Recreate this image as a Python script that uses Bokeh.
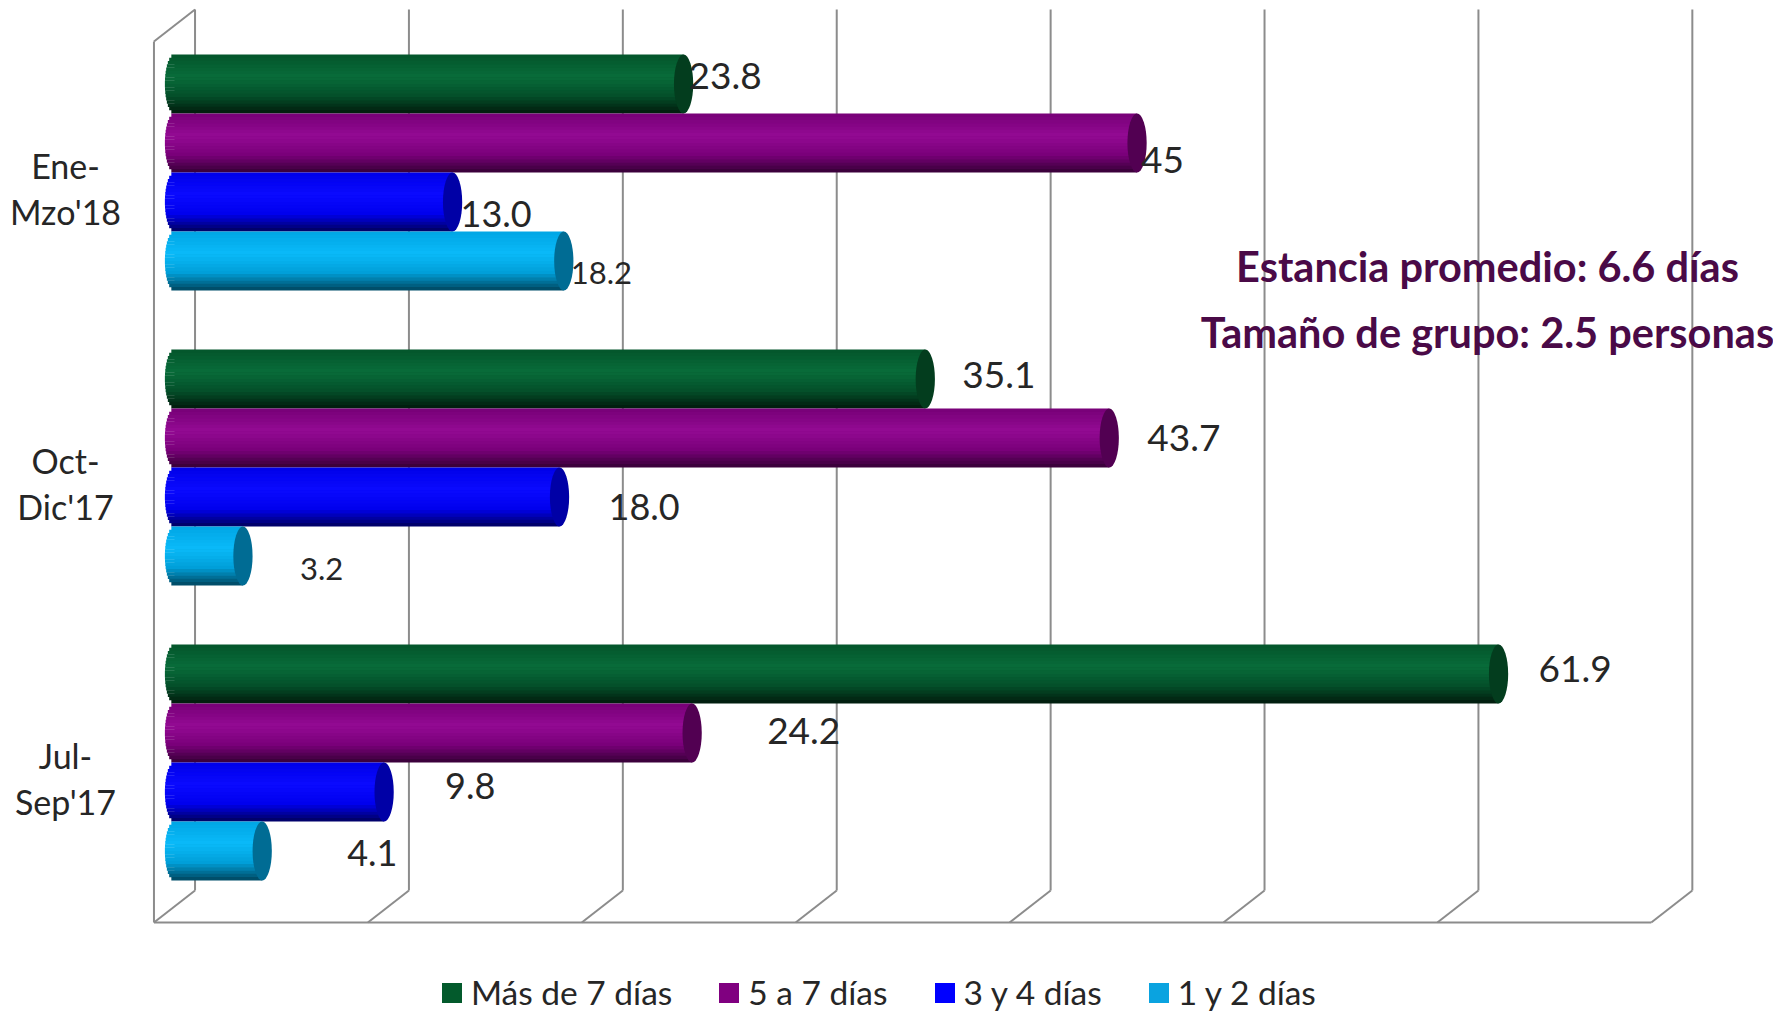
from bokeh.plotting import figure
from bokeh.models import Range1d, Legend, LegendItem
from bokeh.core.properties import value
from bokeh.embed import file_html
from bokeh.resources import INLINE

# ---------------- data ----------------
categories = ["Ene-Mzo'18", "Oct-Dic'17", "Jul-Sep'17"]
series_names = ["Más de 7 días", "5 a 7 días", "3 y 4 días", "1 y 2 días"]
mas_de_7 = [23.8, 35.1, 61.9]
de_5_a_7 = [45.0, 43.7, 24.2]
de_3_y_4 = [13.0, 18.0, 9.8]
de_1_y_2 = [18.2, 3.2, 4.1]
mas_de_7_labels = ["23.8", "35.1", "61.9"]
de_5_a_7_labels = ["45", "43.7", "24.2"]
de_3_y_4_labels = ["13.0", "18.0", "9.8"]
de_1_y_2_labels = ["18.2", "3.2", "4.1"]
x_ticks = [0, 10, 20, 30, 40, 50, 60, 70]
notes = ["Estancia promedio: 6.6 días", "Tamaño de grupo: 2.5 personas"]

# ---------------- layout / style ----------------
W, H = 1773, 1019
PX_UNIT = 21.39      # pixels per value unit
X0 = 174             # pixel of value 0
SLOT = 59.0          # pixel height of one bar slot

def xd(px):
    return (px - X0) / PX_UNIT

def yd(px):
    return px / SLOT

Y0 = yd(83.5)
GROUP = 5
DX = 0.96
DY = yd(16)
Y_TOP = yd(9)
Y_FLOOR = yd(890)
CAP_W = 0.9
N_SLICES = 18
FONT = "Lato"
TXT = "#262626"
GRID = "#8c8c8c"

def hex2rgb(h):
    return tuple(int(h[i:i + 2], 16) for i in (1, 3, 5))

def mix(c1, c2, t):
    a, b = hex2rgb(c1), hex2rgb(c2)
    return "#%02x%02x%02x" % tuple(round(a[i] + (b[i] - a[i]) * t) for i in range(3))

def shade(stops, t):
    for (p0, c0), (p1, c1) in zip(stops, stops[1:]):
        if t <= p1:
            return mix(c0, c1, (t - p0) / (p1 - p0))
    return stops[-1][1]

# gradient stops top->bottom, end-cap colour, legend colour
styles = [
    ([(0, "#04552b"), (0.38, "#086c3a"), (0.7, "#04502a"), (1, "#011a0c")], "#033d1e", "#035a2c"),
    ([(0, "#770077"), (0.38, "#930a93"), (0.7, "#7a007a"), (1, "#360036")], "#520052", "#800080"),
    ([(0, "#0000e8"), (0.38, "#0a0aff"), (0.7, "#0000ee"), (1, "#00005e")], "#0000a6", "#0000ff"),
    ([(0, "#00a6e4"), (0.38, "#0abaf9"), (0.7, "#009fd8"), (1, "#00465f")], "#006c94", "#0aa3e0"),
]
label_dx = [[5, 37, 40], [4, 38, 75], [8, 49, 61], [7, 57, 85]]
label_dy = [[-8, -4, -5], [17, 0, -2], [12, 10, -6], [12, 13, 2]]
label_size = [["37px"] * 3, ["37px"] * 3, ["36px"] * 3, ["31px", "31px", "36px"]]

p = figure(width=W, height=H, output_backend="svg", toolbar_location=None,
           x_range=Range1d(xd(0), xd(W)), y_range=Range1d(yd(H), 0),
           x_axis_location=None, y_axis_location=None, min_border=0,
           outline_line_color=None, background_fill_color="white")
p.grid.visible = False

# ---------------- 3D frame: back wall gridlines, floor ----------------
back_x = [t + DX for t in x_ticks]
front_x = [t - DX for t in x_ticks]
n = len(x_ticks)
p.segment(x0=back_x, y0=[Y_TOP] * n, x1=back_x, y1=[Y_FLOOR] * n, line_color=GRID, line_width=2)
p.segment(x0=back_x, y0=[Y_FLOOR] * n, x1=front_x, y1=[Y_FLOOR + 2 * DY] * n, line_color=GRID, line_width=2)
p.segment(x0=[front_x[0], front_x[0], front_x[0]],
          y0=[Y_FLOOR + 2 * DY, Y_TOP + 2 * DY, Y_TOP + 2 * DY],
          x1=[front_x[-1], front_x[0], back_x[0]],
          y1=[Y_FLOOR + 2 * DY, Y_FLOOR + 2 * DY, Y_TOP],
          line_color=GRID, line_width=2)

# ---------------- bars (pseudo-cylinders) ----------------
all_vals = [mas_de_7, de_5_a_7, de_3_y_4, de_1_y_2]
all_labels = [mas_de_7_labels, de_5_a_7_labels, de_3_y_4_labels, de_1_y_2_labels]
legend_renderers = []
a = CAP_W / 2.0
for s, vals in enumerate(all_vals):
    ys = [Y0 + GROUP * g + s for g in range(len(categories))]
    stops, cap_col, leg_col = styles[s]
    # flat base bar in legend colour (covered by the shaded slices)
    lr = p.hbar(y=ys, left=0, right=vals, height=0.9, fill_color=leg_col, line_color=None)
    legend_renderers.append(lr)
    for k in range(N_SLICES):
        u = (k + 0.5) / N_SLICES          # 0 top .. 1 bottom
        off = u - 0.5
        left_edge = -a * (max(0.0, 1 - (2 * off) ** 2)) ** 0.5
        p.hbar(y=[y + off for y in ys], left=left_edge, right=vals, height=1.0 / N_SLICES + 0.004,
               fill_color=shade(stops, u), line_color=None)
    p.ellipse(x=vals, y=ys, width=CAP_W, height=1.0, fill_color=cap_col, line_color=None)
    p.text(x=vals, y=ys, text=all_labels[s], x_offset=label_dx[s], y_offset=label_dy[s],
           text_font=value(FONT), text_font_size=label_size[s], text_color=TXT,
           text_align="left", text_baseline="middle")

# ---------------- category labels ----------------
cat_y = [Y0 + GROUP * g + 1.5 + yd(16) for g in range(len(categories))]
p.text(x=[xd(65)] * len(categories), y=cat_y, text=[c.replace("-", "-\n") for c in categories],
       text_font=value(FONT), text_font_size="34px", text_color=TXT, text_align="center",
       text_baseline="middle", text_line_height=1.1)

# ---------------- notes ----------------
p.text(x=[xd(1487)] * 2, y=[yd(265), yd(331)], text=notes, text_font=value(FONT),
       text_font_size="41.5px", text_font_style="bold", text_color="#4a0a47",
       text_align="center", text_baseline="middle")

# ---------------- legend ----------------
legend = Legend(items=[LegendItem(label=nm, renderers=[r]) for nm, r in zip(series_names, legend_renderers)],
                orientation="horizontal", location=(439, 7), padding=0, margin=0, spacing=44,
                label_standoff=7, glyph_width=25, glyph_height=25, label_height=30,
                label_text_font=FONT, label_text_font_size="33.5px", label_text_color=TXT,
                border_line_color=None, background_fill_alpha=0)
p.add_layout(legend)

open("out.html", "w").write(file_html(p, INLINE))
